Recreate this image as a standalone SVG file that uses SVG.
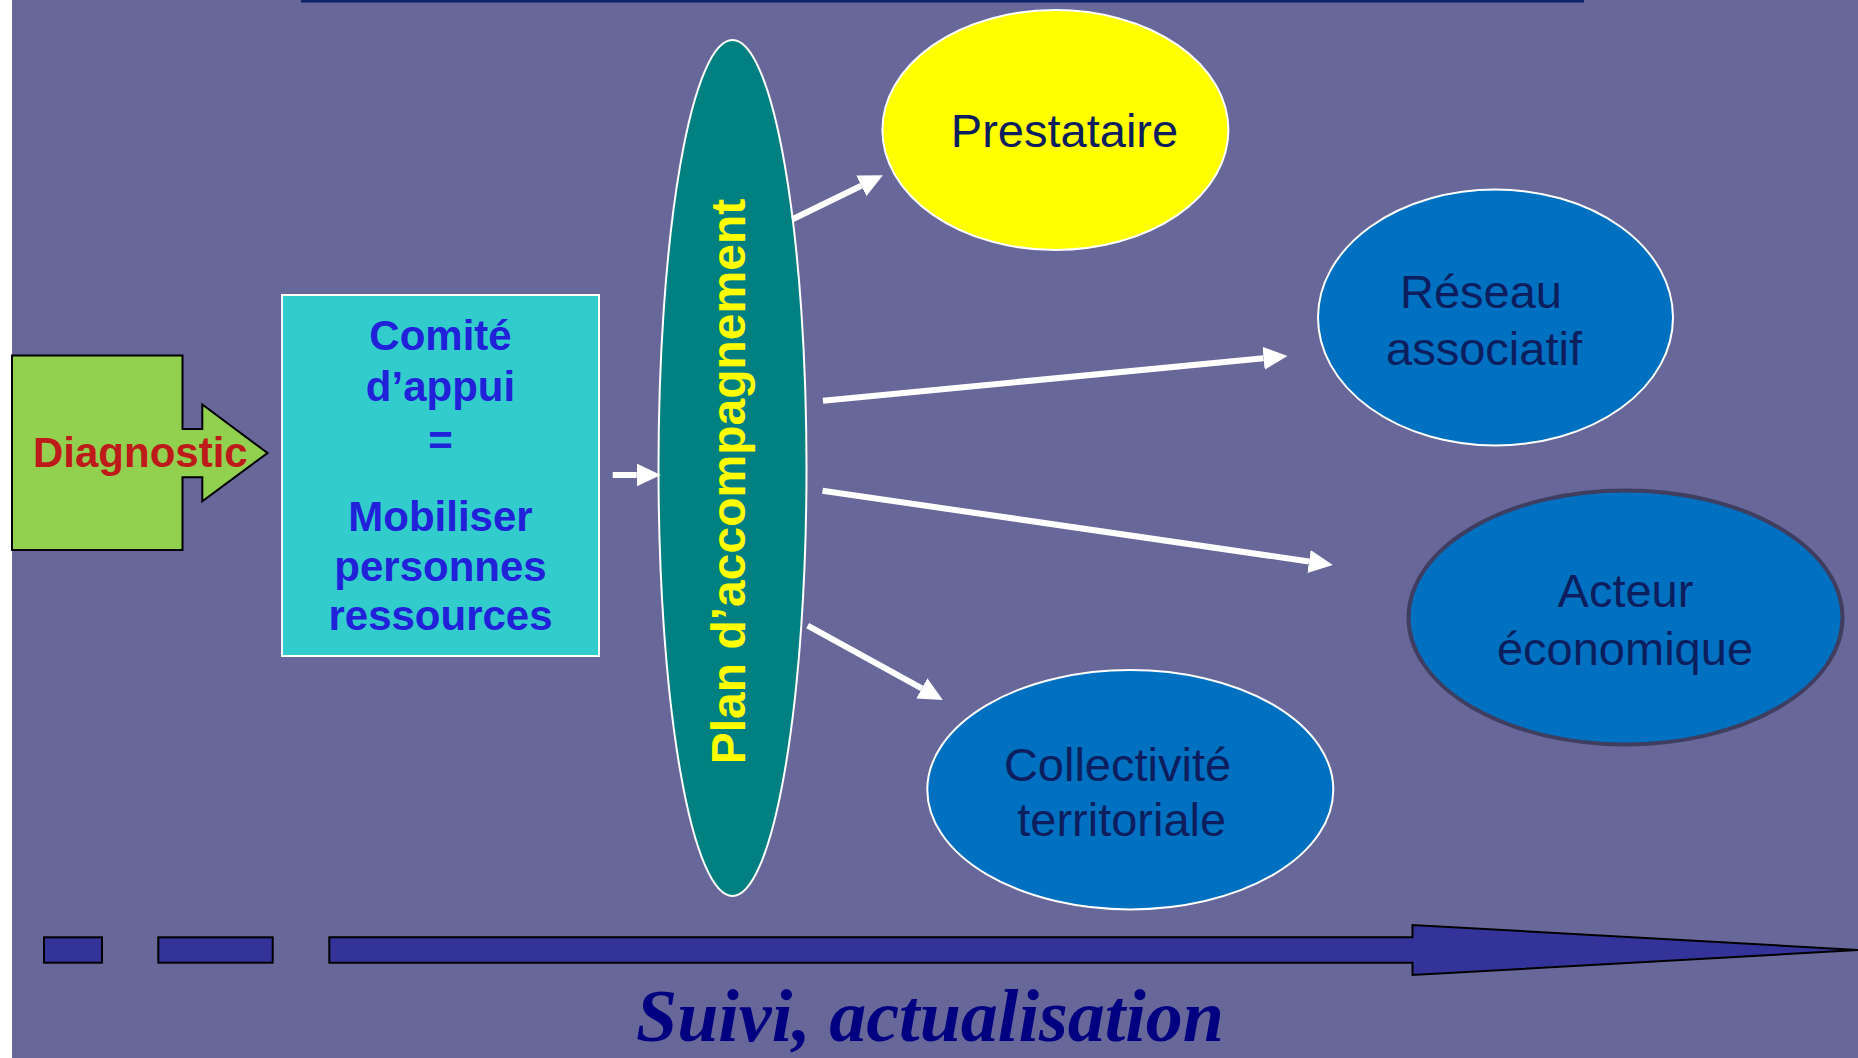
<svg xmlns="http://www.w3.org/2000/svg" width="1858" height="1058" viewBox="0 0 1858 1058">
  <defs>
    <style>
      .bg { fill: #67679A; }
      .ell-stroke { stroke: #FFFFFF; stroke-width: 2; }
      .blue { fill: #0070C0; }
      .lbl { font-family: "Liberation Sans", Arial, sans-serif; font-size: 47px; fill: #0C1E5E; text-anchor: middle; }
      .bold { font-family: "Liberation Sans", Arial, sans-serif; font-weight: bold; text-anchor: middle; }
      .conn { stroke: #FFFFFF; stroke-width: 6; fill: none; marker-end: url(#head); }
      .bar { fill: #333399; stroke: #000000; stroke-width: 2; }
    </style>
    <marker id="head" markerUnits="userSpaceOnUse" markerWidth="26" markerHeight="24" refX="0" refY="11.5" orient="auto">
      <path d="M0,0 L24,11.5 L0,23 Z" fill="#FFFFFF"/>
    </marker>
  </defs>

  <rect x="0" y="0" width="1858" height="1058" fill="#FFFFFF"/>
  <rect class="bg" x="12" y="0" width="1846" height="1058"/>

  <!-- cut-off title underline -->
  <rect x="301" y="0" width="1283" height="2.5" fill="#0E2366"/>

  <g id="diagnostic">
    <polygon points="12,355.5 182.5,355.5 182.5,429 202.3,429 202.3,404.5 267.5,453 202.3,501.3 202.3,477.3 182.5,477.3 182.5,550 12,550" fill="#92D050" stroke="#000000" stroke-width="2"/>
    <text x="33" y="467" font-family="Liberation Sans, Arial, sans-serif" font-weight="bold" font-size="42" fill="#BF1A1A">Diagnostic</text>
  </g>

  <g id="comite">
    <rect x="282" y="295" width="317" height="361" fill="#33CCCC" stroke="#FFFFFF" stroke-width="2"/>
    <g class="bold" font-size="42" fill="#2121D9">
      <text x="440.5" y="350">Comité</text>
      <text x="440.5" y="400.5">d’appui</text>
      <text x="440.5" y="455">=</text>
      <text x="440.5" y="531">Mobiliser</text>
      <text x="440.5" y="580.5">personnes</text>
      <text x="440.5" y="630">ressources</text>
    </g>
  </g>

  <g id="plan">
    <ellipse cx="732.5" cy="468" rx="74" ry="428" fill="#008080" class="ell-stroke"/>
    <text class="bold" font-size="48" fill="#FFFF00" transform="translate(745,481.5) rotate(-90)">Plan d’accompagnement</text>
  </g>

  <g id="prestataire">
    <ellipse cx="1055.4" cy="130" rx="173" ry="120" fill="#FFFF00" class="ell-stroke"/>
    <text class="lbl" x="1064.5" y="147">Prestataire</text>
  </g>

  <g id="reseau">
    <ellipse cx="1495.5" cy="317.5" rx="177.5" ry="128" class="blue ell-stroke"/>
    <text class="lbl" x="1481" y="307.5">Réseau</text>
    <text class="lbl" x="1484" y="365">associatif</text>
  </g>

  <g id="acteur">
    <ellipse cx="1625.5" cy="617.5" rx="217" ry="127" class="blue" stroke="#403E60" stroke-width="4"/>
    <text class="lbl" x="1625.5" y="607">Acteur</text>
    <text class="lbl" x="1625" y="664.5">économique</text>
  </g>

  <g id="collectivite">
    <ellipse cx="1130.3" cy="789.7" rx="203" ry="119.7" class="blue ell-stroke"/>
    <text class="lbl" x="1117.5" y="780.7">Collectivité</text>
    <text class="lbl" x="1121.7" y="835.7">territoriale</text>
  </g>

  <g id="connectors">
    <line class="conn" x1="612.7" y1="475" x2="636.7" y2="475"/>
    <line class="conn" x1="792.5" y1="219.3" x2="861.3" y2="185.8"/>
    <line class="conn" x1="822.9" y1="400.7" x2="1263.6" y2="358.3"/>
    <line class="conn" x1="822.5" y1="490.7" x2="1309" y2="561.5"/>
    <line class="conn" x1="807.7" y1="625.7" x2="921.8" y2="688.4"/>
  </g>

  <g id="suivi">
    <rect class="bar" x="44" y="937.3" width="58" height="25.4"/>
    <rect class="bar" x="158.3" y="937.3" width="114.4" height="25.4"/>
    <polygon class="bar" points="329.3,937.3 1412.5,937.3 1412.5,925 1860,950 1412.5,975 1412.5,962.7 329.3,962.7"/>
    <text x="930" y="1041" font-family="Liberation Serif, 'Times New Roman', serif" font-weight="bold" font-style="italic" font-size="74" fill="#000080" text-anchor="middle">Suivi, actualisation</text>
  </g>
</svg>
